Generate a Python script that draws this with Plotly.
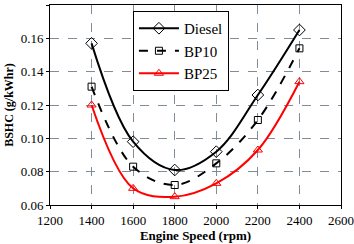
import plotly.graph_objects as go

speed = [1400, 1600, 1800, 2000, 2200, 2400]
diesel = [0.157, 0.098, 0.081, 0.092, 0.126, 0.165]
bp10 = [0.131, 0.083, 0.072, 0.085, 0.111, 0.154]
bp25 = [0.120, 0.070, 0.065, 0.073, 0.093, 0.134]

fig = go.Figure()
fig.add_trace(go.Scatter(x=speed, y=diesel, name="Diesel", mode="lines+markers",
                         line=dict(color="black", width=2, shape="spline"),
                         marker=dict(symbol="diamond-open", size=9, color="black", line=dict(width=1))))
fig.add_trace(go.Scatter(x=speed, y=bp10, name="BP10", mode="lines+markers",
                         line=dict(color="black", width=2, shape="spline", dash="dash"),
                         marker=dict(symbol="square-open", size=7, color="black", line=dict(width=1))))
fig.add_trace(go.Scatter(x=speed, y=bp25, name="BP25", mode="lines+markers",
                         line=dict(color="red", width=2, shape="spline"),
                         marker=dict(symbol="triangle-up-open", size=8, color="red", line=dict(width=1))))

serif = "Liberation Serif"
tickfont = dict(family=serif, size=13, color="black")
fig.update_layout(
    width=354, height=244,
    margin=dict(l=50, r=13, t=5, b=39),
    paper_bgcolor="white", plot_bgcolor="white",
    font=dict(family=serif, size=13, color="black"),
    showlegend=True,
    legend=dict(x=0.285, y=0.97, xanchor="left", yanchor="top",
                bgcolor="white", bordercolor="black", borderwidth=1,
                font=dict(family=serif, size=15, color="black"),
                tracegroupgap=0, itemwidth=40, entrywidth=70),
    xaxis=dict(range=[1200, 2600], dtick=200, showgrid=True, gridcolor="#7f8c99",
               griddash="dash", gridwidth=1, showline=True, linecolor="black", mirror=True,
               ticks="outside", ticklen=3, tickcolor="black", zeroline=False, automargin=False, tickfont=tickfont,
               title=dict(text="<b>Engine Speed (rpm)</b>", font=dict(family=serif, size=13), standoff=4)),
    yaxis=dict(range=[0.06, 0.18], dtick=0.02, tickformat=".2f", showgrid=True, gridcolor="#7f8c99",
               griddash="dash", gridwidth=1, showline=True, linecolor="black", mirror=True,
               ticks="outside", ticklen=3, tickcolor="black", zeroline=False, automargin=False, tickfont=tickfont,
               title=dict(text="<b>BSHC (g/kWhr)</b>", font=dict(family=serif, size=12), standoff=4)),
)
fig.write_html("out.html", config={"displayModeBar": False},
               post_script="document.body.style.margin='0';")
